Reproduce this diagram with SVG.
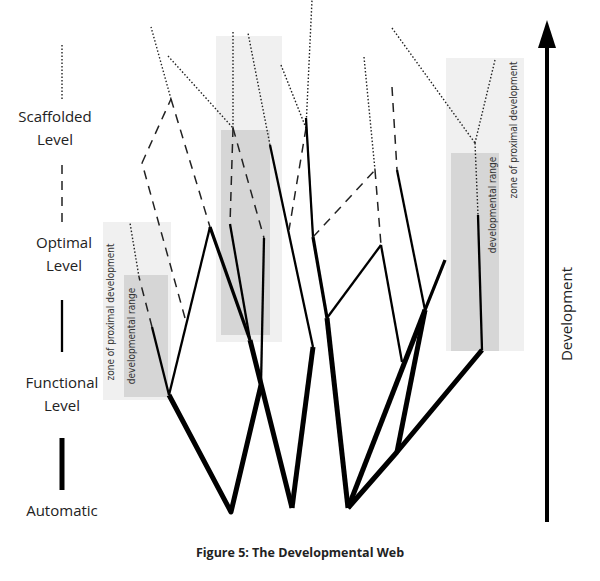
<svg xmlns="http://www.w3.org/2000/svg" width="600" height="581" viewBox="0 0 600 581">
<style>
.lbl{font-family:"Open Sans","Liberation Sans",Arial,sans-serif;font-size:15px;fill:#222;text-anchor:middle}
.pl{font-family:"DejaVu Sans",sans-serif;font-stretch:condensed;font-size:10px;fill:#333;text-anchor:middle}
.dot{stroke:#222;stroke-width:1.4;stroke-dasharray:1.5 2;fill:none}
.dash{stroke:#222;stroke-width:1.5;stroke-dasharray:9 7;fill:none}
.thin{stroke:#000;stroke-width:2.3;fill:none}
.mid{stroke:#000;stroke-width:3.3;fill:none}
.thick{stroke:#000;stroke-width:5;fill:none;stroke-linejoin:round}
</style>
<rect width="600" height="581" fill="#fff"/>
<g id="zones">
<rect x="103" y="222" width="68" height="178" fill="#f0f0f0"/>
<rect x="124" y="275" width="44" height="122" fill="#d6d6d6"/>
<rect x="216" y="36" width="66" height="306" fill="#f0f0f0"/>
<rect x="221" y="130" width="49" height="205" fill="#d6d6d6"/>
<rect x="446" y="58" width="78" height="293" fill="#f0f0f0"/>
<rect x="451" y="153" width="48" height="198" fill="#d6d6d6"/>
<text class="pl" transform="translate(114,312) rotate(-90)">zone of proximal development</text>
<text class="pl" transform="translate(135,336) rotate(-90)">developmental range</text>
<text class="pl" transform="translate(496,205) rotate(-90)">developmental range</text>
<text class="pl" transform="translate(517,130) rotate(-90)">zone of proximal development</text>
</g>
<g id="legend">
<line x1="62" y1="45" x2="62" y2="100" class="dot"/>
<text class="lbl" x="55" y="122">Scaffolded</text><text class="lbl" x="55" y="145">Level</text>
<line x1="62" y1="165" x2="62" y2="222" class="dash"/>
<text class="lbl" x="64" y="248">Optimal</text><text class="lbl" x="64" y="271">Level</text>
<line x1="62" y1="300" x2="62" y2="352" class="thin"/>
<text class="lbl" x="62" y="388">Functional</text><text class="lbl" x="62" y="411">Level</text>
<line x1="62" y1="438" x2="62" y2="490" stroke="#000" stroke-width="5"/>
<text class="lbl" x="62" y="516">Automatic</text>
</g>
<g id="connectors">
<polyline class="thick" points="169,395 231,512 261,385"/>
<line class="thin" x1="169" y1="395" x2="210" y2="227"/>
<line class="thin" x1="169" y1="395" x2="152" y2="327"/>
<line class="dash" x1="152" y1="327" x2="139" y2="277"/>
<line class="dot" x1="139" y1="277" x2="130" y2="223"/>
<line class="dash" x1="185" y1="318" x2="142" y2="163"/>
<line class="dash" x1="142" y1="163" x2="171" y2="99"/>
<line class="dash" x1="171" y1="99" x2="210" y2="227"/>
<line class="dot" x1="171" y1="99" x2="151" y2="27"/>
<line class="dot" x1="168" y1="56" x2="233" y2="128"/>
<line class="dot" x1="233" y1="128" x2="233" y2="32"/>
<line class="dash" x1="233" y1="128" x2="230" y2="224"/>
<line class="dash" x1="233" y1="128" x2="264" y2="238"/>
<line class="thin" x1="230" y1="224" x2="250" y2="340"/>
<line class="thin" x1="264" y1="238" x2="261" y2="385"/>
<line class="mid" x1="210" y1="227" x2="250" y2="340"/>
<line class="thick" x1="250" y1="340" x2="292" y2="508"/>
<line class="thick" x1="292" y1="508" x2="313" y2="347"/>
<line class="thin" x1="313" y1="347" x2="270" y2="145"/>
<line class="dot" x1="270" y1="145" x2="248" y2="33"/>
<line class="dot" x1="281" y1="65" x2="306" y2="128"/>
<line class="dot" x1="306" y1="128" x2="312" y2="0"/>
<line class="dash" x1="306" y1="128" x2="289" y2="230"/>
<line class="thin" x1="306" y1="118" x2="313" y2="237"/>
<line class="mid" x1="313" y1="237" x2="327" y2="318"/>
<line class="thick" x1="327" y1="318" x2="348" y2="508"/>
<line class="dash" x1="313" y1="237" x2="375" y2="170"/>
<line class="dot" x1="375" y1="170" x2="364" y2="57"/>
<line class="dash" x1="375" y1="170" x2="381" y2="245"/>
<line class="thin" x1="327" y1="318" x2="381" y2="245"/>
<line class="thin" x1="381" y1="245" x2="402" y2="362"/>
<line class="dash" x1="392" y1="87" x2="397" y2="170"/>
<line class="thin" x1="397" y1="170" x2="425" y2="310"/>
<line class="dot" x1="392" y1="28" x2="475" y2="143"/>
<line class="dot" x1="495" y1="60" x2="475" y2="143"/>
<line class="dot" x1="475" y1="143" x2="478" y2="215"/>
<line class="thin" x1="478" y1="215" x2="482" y2="350"/>
<polyline class="thick" points="482,350 397,452 348,508"/>
<line class="thick" x1="397" y1="452" x2="425" y2="310"/>
<line class="thick" x1="348" y1="508" x2="425" y2="310"/>
<line class="mid" x1="425" y1="310" x2="445" y2="260"/>
</g>
<g id="axis">
<line x1="547" y1="522" x2="547" y2="44" stroke="#000" stroke-width="4"/>
<polygon points="547,20 538,48 556,48" fill="#000"/>
<text class="lbl" transform="translate(572,314) rotate(-90)" font-size="16">Development</text>
</g>
<text x="300" y="557" font-family="Open Sans,Liberation Sans,Arial,sans-serif" font-size="12.5" font-weight="bold" text-anchor="middle" fill="#222">Figure 5: The Developmental Web</text>
</svg>
